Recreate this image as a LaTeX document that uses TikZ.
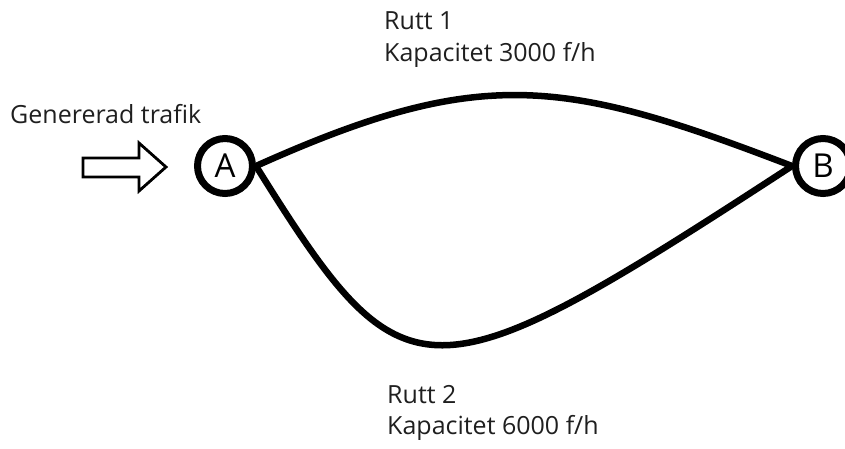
\documentclass[tikz,border=0pt]{standalone}
\usepackage{fontspec}
\setmainfont{Open Sans}
\begin{document}
\begin{tikzpicture}[x=1pt,y=-1pt,
  lbl/.style={font=\fontsize{25}{28}\selectfont, inner sep=0pt, anchor=base west, text=black!88},
  stn/.style={circle, draw, line width=7pt, minimum size=55pt, inner sep=0pt, font=\fontsize{33}{36}\selectfont},
  route/.style={line width=6.5pt},
  inarrow/.style={draw, line width=2.8pt, line join=miter, fill=white}]
\useasboundingbox (0,0) rectangle (845,448);
\node[stn] (A) at (225,166) {A};
\node[stn] (B) at (823,166) {B};
\draw[route] (A.east) .. controls (481,65) and (563,78) .. (B.west);
\draw[route] (A.east) .. controls (405,405) and (425,405) .. (B.west);
\draw[inarrow] (83,158) -- (139,158) -- (139,143) -- (166,167) -- (139,191) -- (139,177) -- (83,177) -- cycle;
\node[lbl] (gen) at (10,123) {Genererad trafik};
\node[lbl] (r1) at (384,29) {Rutt 1};
\node[lbl] (k1) at (384,61) {Kapacitet 3000 f/h};
\node[lbl] (r2) at (387,403) {Rutt 2};
\node[lbl] (k2) at (387,434) {Kapacitet 6000 f/h};
\end{tikzpicture}
\end{document}
